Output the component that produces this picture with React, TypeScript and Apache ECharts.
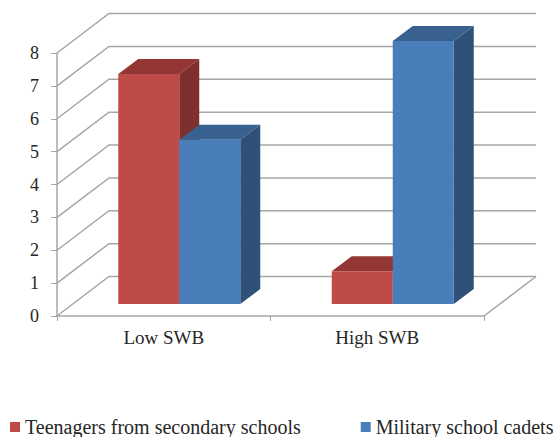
import React, { useEffect, useRef } from "react";
import * as echarts from "echarts";

const categories = ["Low SWB", "High SWB"];
const teenagers = [7, 1];
const cadets = [5, 8];
const tickValues = [0, 1, 2, 3, 4, 5, 6, 7, 8];
const seriesNames = ["Teenagers from secondary schools", "Military school cadets"];

const FONT = "'Liberation Serif', 'Times New Roman', serif";
const WALL_DX = 52;
const WALL_DY = 39.5;
const BAR_OFFSET_X = 15.5;
const BAR_OFFSET_Y = 12;
const BAR_WIDTH = 61;
const BAR_DX = 20;
const BAR_DY = 15;
const GRID_COLOR = "#a6a6a6";

function renderWalls(params: any, api: any) {
  const v = api.value(0);
  const cs = params.coordSys;
  const y = api.coord([0, v])[1];
  const left = cs.x;
  const right = cs.x + cs.width;
  const children: any[] = [
    {
      type: "polyline",
      shape: {
        points: [
          [left, y],
          [left + WALL_DX, y - WALL_DY],
          [right + WALL_DX, y - WALL_DY],
        ],
      },
      style: { stroke: GRID_COLOR, lineWidth: 1.5, fill: "none" },
    },
  ];
  if (v === 0) {
    children.push({
      type: "line",
      shape: { x1: right, y1: y, x2: right + WALL_DX, y2: y - WALL_DY },
      style: { stroke: GRID_COLOR, lineWidth: 1.5 },
    });
  }
  return { type: "group", children };
}

function bar3d(side: number, front: string, top: string, flank: string) {
  return (_params: any, api: any) => {
    const cat = api.value(0);
    const val = api.value(1);
    const c = api.coord([cat, val]);
    const base = api.coord([cat, 0]);
    const mid = c[0] + BAR_OFFSET_X;
    const x0 = side < 0 ? mid - BAR_WIDTH : mid;
    const x1 = x0 + BAR_WIDTH;
    const yt = c[1] - BAR_OFFSET_Y;
    const yb = base[1] - BAR_OFFSET_Y;
    return {
      type: "group",
      children: [
        {
          type: "polygon",
          shape: { points: [[x0, yt], [x0 + BAR_DX, yt - BAR_DY], [x1 + BAR_DX, yt - BAR_DY], [x1, yt]] },
          style: { fill: top },
        },
        {
          type: "polygon",
          shape: { points: [[x1, yt], [x1 + BAR_DX, yt - BAR_DY], [x1 + BAR_DX, yb - BAR_DY], [x1, yb]] },
          style: { fill: flank },
        },
        {
          type: "rect",
          shape: { x: x0, y: yt, width: BAR_WIDTH, height: yb - yt },
          style: { fill: front },
        },
      ],
    };
  };
}

export default function App() {
  const ref = useRef<HTMLDivElement>(null);
  useEffect(() => {
    const chart = echarts.init(ref.current!, undefined, { renderer: "svg" });
    chart.setOption({
      animation: false,
      backgroundColor: "#ffffff",
      grid: { left: 57, right: 73, top: 53, bottom: 121 },
      legend: {
        data: seriesNames,
        left: 10,
        top: 417,
        itemWidth: 10,
        itemHeight: 10,
        itemGap: 60,
        icon: "rect",
        padding: 0,
        textStyle: { fontFamily: FONT, fontSize: 20, color: "#262626" },
      },
      xAxis: {
        type: "category",
        data: categories,
        axisLine: { lineStyle: { color: GRID_COLOR, width: 1.5 } },
        axisTick: { show: true, length: 5, alignWithLabel: false, lineStyle: { color: GRID_COLOR } },
        axisLabel: { fontFamily: FONT, fontSize: 19, color: "#262626", margin: 12 },
        splitLine: { show: false },
      },
      yAxis: {
        type: "value",
        min: 0,
        max: 8,
        interval: 1,
        axisLine: { show: true, lineStyle: { color: GRID_COLOR, width: 1.5 } },
        axisTick: { show: true, length: 6, lineStyle: { color: GRID_COLOR } },
        axisLabel: { fontFamily: FONT, fontSize: 18, color: "#262626", margin: 18 },
        splitLine: { show: false },
      },
      series: [
        {
          type: "custom",
          name: "walls",
          silent: true,
          z: 1,
          coordinateSystem: "cartesian2d",
          data: tickValues.map((v) => [v]),
          encode: { y: 0 },
          renderItem: renderWalls,
        },
        {
          type: "custom",
          name: seriesNames[0],
          z: 2,
          itemStyle: { color: "#be4b48" },
          data: teenagers.map((v, i) => [i, v]),
          encode: { x: 0, y: 1 },
          renderItem: bar3d(-1, "#be4b48", "#943634", "#7f302e"),
        },
        {
          type: "custom",
          name: seriesNames[1],
          z: 3,
          itemStyle: { color: "#4a7ebb" },
          data: cadets.map((v, i) => [i, v]),
          encode: { x: 0, y: 1 },
          renderItem: bar3d(1, "#4a7ebb", "#38618f", "#2f5078"),
        },
      ],
    });
    return () => chart.dispose();
  }, []);
  return <div ref={ref} style={{ position: "fixed", left: 0, top: 0, width: 557, height: 437 }} />;
}
